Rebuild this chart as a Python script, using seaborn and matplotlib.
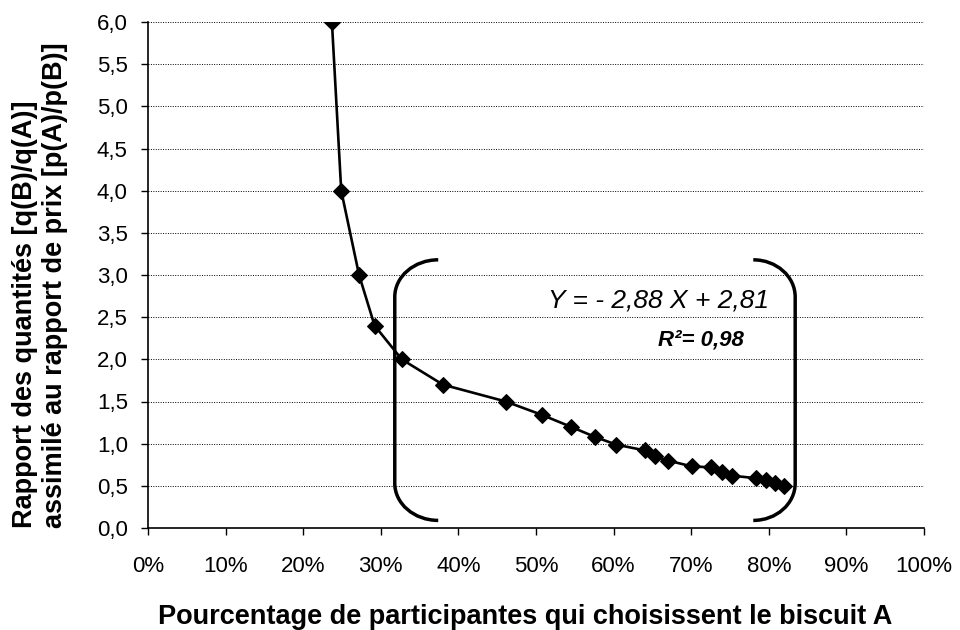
import matplotlib
matplotlib.use("Agg")
import matplotlib.pyplot as plt
from matplotlib.path import Path
from matplotlib.patches import PathPatch
from matplotlib.ticker import FuncFormatter
import seaborn as sns
import pandas as pd

# Share of participants choosing biscuit A (%) and the quantity ratio q(B)/q(A)
pct_choose_a = [23.7, 24.9, 27.2, 29.2, 32.7, 38.0, 46.1, 50.8, 54.5, 57.6, 60.3,
                64.0, 65.3, 67.0, 70.1, 72.5, 74.0, 75.3, 78.4, 79.7, 80.8, 81.9]
ratio = [6.0, 4.0, 3.0, 2.4, 2.0, 1.7, 1.5, 1.34, 1.2, 1.08, 0.99,
         0.92, 0.85, 0.80, 0.73, 0.72, 0.66, 0.62, 0.59, 0.57, 0.53, 0.50]

x_ticks = [0, 10, 20, 30, 40, 50, 60, 70, 80, 90, 100]
y_ticks = [0.0, 0.5, 1.0, 1.5, 2.0, 2.5, 3.0, 3.5, 4.0, 4.5, 5.0, 5.5, 6.0]

equation_text = "Y = - 2,88 X + 2,81"
r2_text = "R²= 0,98"

df = pd.DataFrame({"pct": pct_choose_a, "ratio": ratio})

sns.set_style("white")
plt.rcParams["font.family"] = ["Liberation Sans", "DejaVu Sans"]
plt.rcParams["text.color"] = "black"
plt.rcParams["axes.labelcolor"] = "black"
plt.rcParams["xtick.color"] = "black"
plt.rcParams["ytick.color"] = "black"

fig = plt.figure(figsize=(9.6, 6.3), dpi=100)
ax = fig.add_axes([148 / 960, 1 - 528 / 630, 776 / 960, 506 / 630])

sns.lineplot(data=df, x="pct", y="ratio", ax=ax, color="black", linewidth=1.9,
             marker="D", markersize=8.5, markeredgecolor="black",
             markerfacecolor="black", estimator=None)

ax.set_xlim(0, 100)
ax.set_ylim(0, 6)
ax.set_xticks(x_ticks)
ax.set_yticks(y_ticks)
ax.xaxis.set_major_formatter(FuncFormatter(lambda v, p: f"{int(round(v))}%"))
ax.yaxis.set_major_formatter(FuncFormatter(lambda v, p: f"{v:.1f}".replace(".", ",")))

# dotted horizontal gridlines
ax.grid(False)
for yv in y_ticks[1:]:
    ax.axhline(yv, color="black", linestyle=(0, (1, 1.5)), linewidth=0.7, zorder=0)

for side in ("top", "right"):
    ax.spines[side].set_visible(False)
for side in ("left", "bottom"):
    ax.spines[side].set_color("black")
    ax.spines[side].set_linewidth(1.2)

ax.tick_params(axis="both", direction="out", length=5, width=1.0, color="black",
               left=True, bottom=True)
ax.tick_params(axis="x", labelsize=16, pad=15)
ax.tick_params(axis="y", labelsize=16, pad=9.5)

ax.set_xlabel("Pourcentage de participantes qui choisissent le biscuit A",
              fontsize=19.5, fontweight="bold", ha="left", va="baseline")
ax.xaxis.set_label_coords((158 - 148) / 776, -(624.5 - 528) / 506)
ax.set_ylabel("Rapport des quantités [q(B)/q(A)]\nassimilé au rapport de prix [p(A)/p(B)]",
              fontsize=19.5, fontweight="bold", ha="left", va="center",
              multialignment="left", rotation_mode="anchor", linespacing=1.2)
ax.yaxis.set_label_coords(-(148 - 40) / 776, 0.0)


def bracket(x_vert, x_end, y_top, y_bot, ry):
    k = 0.552
    rx = x_end - x_vert
    verts = [
        (x_end, y_top),
        (x_end - k * rx, y_top), (x_vert, y_top - ry + k * ry), (x_vert, y_top - ry),
        (x_vert, y_bot + ry),
        (x_vert, y_bot + ry - k * ry), (x_end - k * rx, y_bot), (x_end, y_bot),
    ]
    codes = [Path.MOVETO, Path.CURVE4, Path.CURVE4, Path.CURVE4, Path.LINETO,
             Path.CURVE4, Path.CURVE4, Path.CURVE4]
    return PathPatch(Path(verts, codes), fill=False, edgecolor="black",
                     linewidth=2.5, capstyle="butt", zorder=4)


ax.add_patch(bracket(31.8, 37.4, 3.18, 0.09, 0.44))
ax.add_patch(bracket(83.4, 78.0, 3.18, 0.09, 0.44))

ax.text(65.8, 2.70, equation_text, fontsize=19, fontstyle="italic",
        ha="center", va="center")
ax.text(71.2, 2.225, r2_text, fontsize=16, fontstyle="italic", fontweight="bold",
        ha="center", va="center")

fig.savefig("out.png", dpi=100)
